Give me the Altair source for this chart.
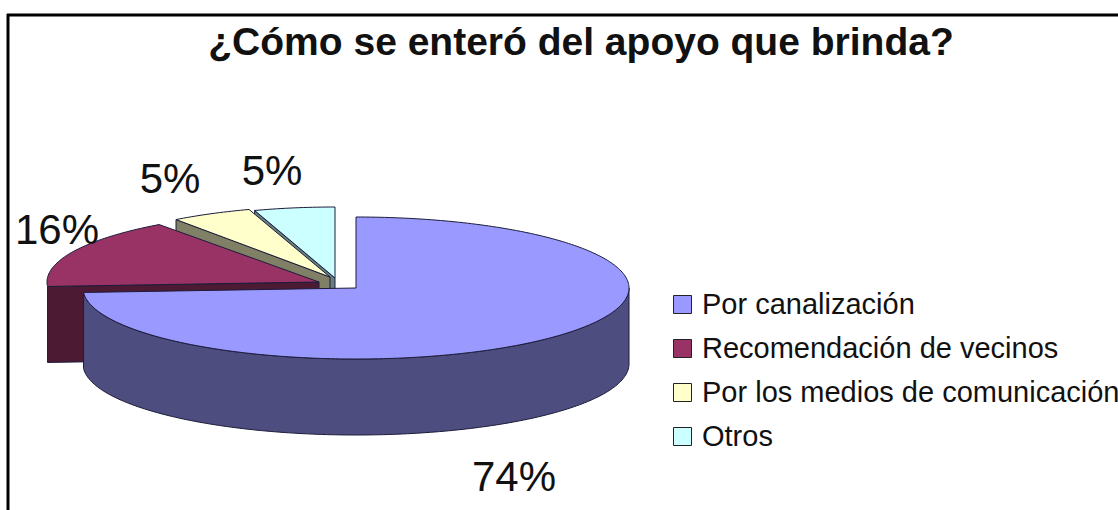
import math
import altair as alt

TITLE = "¿Cómo se enteró del apoyo que brinda?"
categories = ["Por canalización", "Recomendación de vecinos", "Por los medios de comunicación", "Otros"]
shares = [74, 16, 5, 5]
top_colors = ["#9999FF", "#993366", "#FFFFCC", "#CCFFFF"]
side_colors = ["#4D4D80", "#4D1A33", "#808066", "#668080"]

# Pixel layout of the tilted, exploded pie
centers = [(356, 288), (319, 282), (330, 277), (335, 278)]
radii_x = [273, 272, 262, 260]
radius_y = 71
depth = 76
label_xy = [(514, 478), (57, 231), (170, 180), (272, 172)]

FONT = "Liberation Sans"
OUTLINE = "#1c1c3a"


def rim(i, deg):
    a = math.radians(deg)
    cx, cy = centers[i]
    return (cx + radii_x[i] * math.sin(a), cy - radius_y * math.cos(a))


def lowered(p):
    return (p[0], p[1] + depth)


def feature(ring, category, order):
    return {
        "type": "Feature",
        "geometry": {"type": "Polygon", "coordinates": [[list(p) for p in ring + ring[:1]]]},
        "properties": {"category": category, "order": order},
    }


def arc(i, start, stop):
    steps = max(2, int(abs(stop - start)))
    return [rim(i, start + (stop - start) * k / steps) for k in range(steps + 1)]


# Slice boundaries, clockwise from twelve o'clock, in degrees
bounds = [0]
for s in shares:
    bounds.append(bounds[-1] + s * 3.6)

tops, sides = [], []
for i, cat in enumerate(categories):
    start, stop = bounds[i], bounds[i + 1]
    tops.append(feature([centers[i]] + arc(i, start, stop), cat, i))
    if i == 0:
        # Curved wall along the front of the largest slice
        wall = arc(i, 90, stop)
        sides.append(feature(wall + [lowered(p) for p in reversed(wall)], cat, i))
    else:
        # Cut face on the slice's leading radial edge
        edge = [rim(i, start), centers[i]]
        sides.append(feature(edge + [lowered(p) for p in reversed(edge)], cat, i))

projection = alt.Projection(type="identity", scale=1, translate=[0, 0])
color_scale = alt.Scale(domain=categories, range=top_colors)
legend = alt.Legend(
    title=None,
    orient="none",
    legendX=668,
    legendY=290,
    symbolType="square",
    symbolSize=324,
    symbolStrokeColor="#222222",
    symbolStrokeWidth=1,
    symbolOpacity=1,
    labelFont=FONT,
    labelFontSize=29,
    labelColor="#111111",
    labelOffset=5,
    rowPadding=14,
    labelLimit=500,
)


def side_layer(i):
    return (
        alt.Chart(alt.InlineData(values=[sides[i]], format=alt.DataFormat(type="json")))
        .mark_geoshape(fill=side_colors[i], stroke=OUTLINE, strokeWidth=1)
        .project(**projection.to_dict())
    )


def top_layer(i):
    return (
        alt.Chart(alt.InlineData(values=[tops[i]], format=alt.DataFormat(type="json")))
        .transform_calculate(category="datum.properties.category")
        .mark_geoshape(stroke=OUTLINE, strokeWidth=1)
        .encode(color=alt.Color("category:N", scale=color_scale, legend=legend))
        .project(**projection.to_dict())
    )


# Painted back to front so nearer slices cover the ones behind them
paint_order = []
for i in [3, 2, 1, 0]:
    paint_order += [side_layer(i), top_layer(i)]

labels = [
    alt.Chart(alt.InlineData(values=[{"t": f"{shares[i]}%"}]))
    .mark_text(font=FONT, fontSize=42, color="#111111", align="center", baseline="middle")
    .encode(text="t:N", x=alt.value(label_xy[i][0]), y=alt.value(label_xy[i][1]))
    for i in range(4)
]

frame = alt.Chart(alt.InlineData(values=[{"a": 0}]))
frame_top = frame.mark_rule(color="#000000", strokeWidth=3).encode(
    x=alt.value(7), x2=alt.value(1118), y=alt.value(15)
)
frame_left = frame.mark_rule(color="#000000", strokeWidth=3).encode(
    x=alt.value(8), y=alt.value(14), y2=alt.value(510)
)

chart = (
    alt.layer(*paint_order, *labels, frame_top, frame_left)
    .resolve_scale(color="shared")
    .properties(
        width=1118,
        height=510,
        padding=0,
        autosize=alt.AutoSizeParams(type="none"),
        background="#FFFFFF",
        title=alt.TitleParams(
            text=TITLE,
            font=FONT,
            fontSize=39,
            fontWeight="bold",
            color="#111111",
            anchor="middle",
            baseline="middle",
            dx=22,
            dy=86,
        ),
    )
    .configure_view(stroke=None)
)

chart.save("out.html", embed_options={"renderer": "svg", "actions": False})
